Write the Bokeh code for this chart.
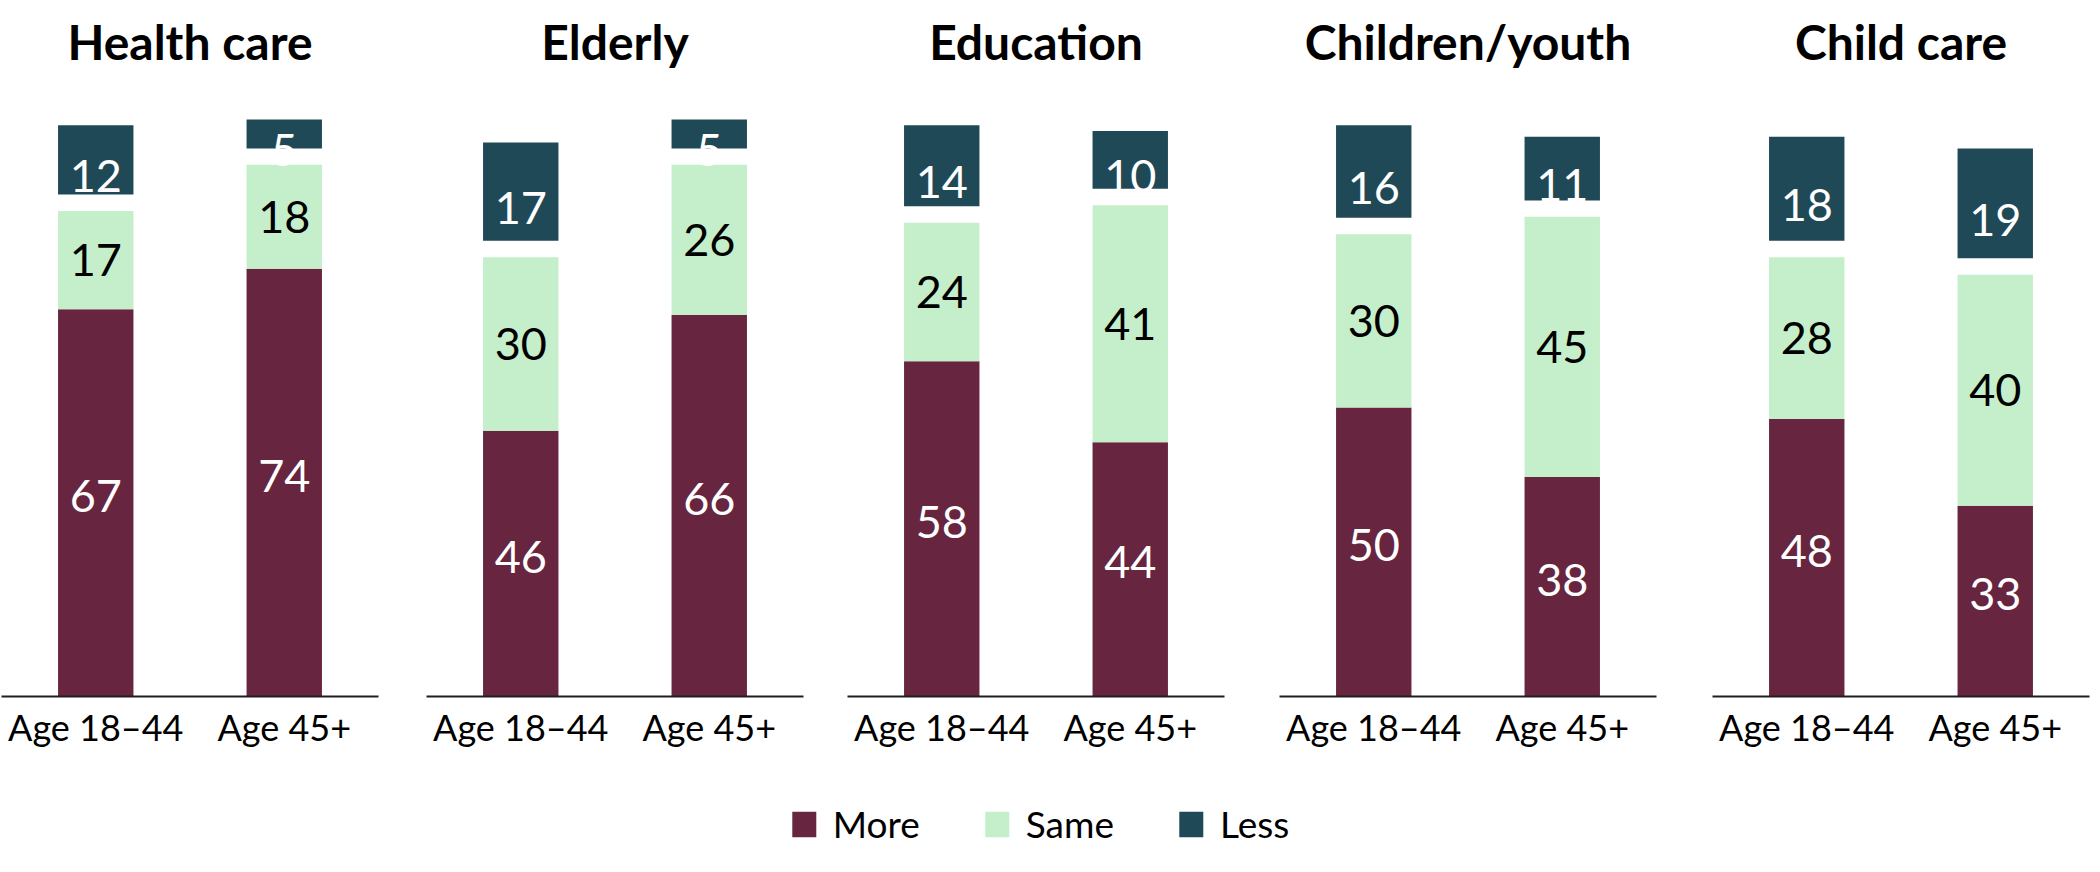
from bokeh.plotting import figure
from bokeh.layouts import row, column
from bokeh.models import ColumnDataSource, FactorRange, Range1d, Legend, LegendItem, Label
from bokeh.core.properties import value
from bokeh.embed import file_html
from bokeh.resources import INLINE

# ---- data ----
categories = ["Health care", "Elderly", "Education", "Children/youth", "Child care"]
groups = ["Age 18\u201344", "Age 45+"]
more_18_44 = [67, 46, 58, 50, 48]
more_45 = [74, 66, 44, 38, 33]
same_18_44 = [17, 30, 24, 30, 28]
same_45 = [18, 26, 41, 45, 40]
less_18_44 = [12, 17, 14, 16, 18]
less_45 = [5, 5, 10, 11, 19]
series = ["More", "Same", "Less"]

# ---- style ----
COLORS = {"More": "#67253F", "Same": "#C4EFCA", "Less": "#1F4956"}
TEXT_COL = {"More": "white", "Same": "black", "Less": "white"}
GAP = 2.85          # visual gap between "Same" and "Less" segments
FONT = "Lato"
FRAME_W = 377
FRAME_H = 601
TITLE_H = 95
BOTTOM_B = 62
LEGEND_H = 98
LEFT_B = [1, 0, 0, 0, 0]
RIGHT_B = [48, 44, 55, 56, 5]
TOTAL_W = sum(LEFT_B) + sum(RIGHT_B) + FRAME_W * len(categories)


def clean(p):
    p.xgrid.grid_line_color = None
    p.ygrid.grid_line_color = None
    p.outline_line_color = None
    p.background_fill_color = "white"
    p.border_fill_color = "white"


# ---- title strip ----
tf = figure(width=TOTAL_W, height=TITLE_H, output_backend="svg", toolbar_location=None,
            x_axis_location=None, y_axis_location=None,
            x_range=Range1d(0, 1), y_range=Range1d(0, 1), min_border=0)
clean(tf)
left = 0
for i, name in enumerate(categories):
    cx = left + LEFT_B[i] + FRAME_W / 2
    tf.add_layout(Label(x=cx, y=TITLE_H - 41, x_units="screen", y_units="screen",
                        text=name, text_font=FONT, text_font_size="48px",
                        text_font_style="bold", text_color="black",
                        text_align="center", text_baseline="middle"))
    left += LEFT_B[i] + FRAME_W + RIGHT_B[i]

# ---- panels ----
figs = []
for i, name in enumerate(categories):
    m = [more_18_44[i], more_45[i]]
    s = [same_18_44[i], same_45[i]]
    l = [less_18_44[i], less_45[i]]
    src = ColumnDataSource(dict(
        x=groups,
        more_b=[0, 0], more_t=m,
        same_b=m, same_t=[a + b for a, b in zip(m, s)],
        less_b=[a + b + GAP for a, b in zip(m, s)],
        less_t=[a + b + GAP + c for a, b, c in zip(m, s, l)],
        more_y=[a / 2 for a in m],
        same_y=[a + b / 2 for a, b in zip(m, s)],
        less_y=[a + b + c / 2 for a, b, c in zip(m, s, l)],
        more_lab=[str(v) for v in m],
        same_lab=[str(v) for v in s],
        less_lab=[str(v) for v in l],
    ))
    p = figure(x_range=FactorRange(*groups), y_range=Range1d(0, 104),
               frame_width=FRAME_W, frame_height=FRAME_H,
               output_backend="svg", toolbar_location=None,
               y_axis_location=None,
               min_border_left=LEFT_B[i], min_border_right=RIGHT_B[i],
               min_border_top=0, min_border_bottom=BOTTOM_B)
    for key, lab in (("more", "More"), ("same", "Same"), ("less", "Less")):
        p.vbar(x="x", bottom=f"{key}_b", top=f"{key}_t", width=0.4,
               source=src, fill_color=COLORS[lab], line_color=None)
    for key, lab, yo in (("more", "More", -7), ("same", "Same", 0), ("less", "Less", 0)):
        p.text(x="x", y=f"{key}_y", text=f"{key}_lab", source=src,
               text_font=value(FONT), text_font_size=value("45px"),
               text_color=TEXT_COL[lab], text_align="center",
               text_baseline="middle", y_offset=yo)
    ax = p.xaxis[0]
    ax.axis_line_color = "#231F20"
    ax.axis_line_width = 2
    ax.major_tick_line_color = None
    ax.minor_tick_line_color = None
    ax.major_label_text_font = FONT
    ax.major_label_text_font_size = "36px"
    ax.major_label_text_color = "black"
    ax.major_label_standoff = 2
    clean(p)
    figs.append(p)

# ---- legend strip ----
lf = figure(width=2078, height=LEGEND_H, output_backend="svg", toolbar_location=None,
            x_axis_location=None, y_axis_location=None,
            x_range=Range1d(0, 1), y_range=Range1d(0, 1), min_border=0)
clean(lf)
series_vals = {"More": more_18_44, "Same": same_18_44, "Less": less_18_44}
proxies = {}
for k in series:
    proxies[k] = lf.vbar(x=list(range(len(categories))), top=series_vals[k], width=0.4,
                         fill_color=COLORS[k], line_color=None, visible=False)
legend = Legend(items=[LegendItem(label=k, renderers=[proxies[k]]) for k in series],
                orientation="horizontal", location="top",
                glyph_width=30, glyph_height=32, label_standoff=14, spacing=62,
                padding=0, margin=43, border_line_color=None,
                background_fill_alpha=0, inactive_fill_alpha=0,
                label_text_font=FONT, label_text_font_size="37px",
                label_text_color="black")
lf.add_layout(legend, "center")

layout = column(tf, row(*figs), lf)
open("out.html", "w").write(file_html(layout, INLINE))
